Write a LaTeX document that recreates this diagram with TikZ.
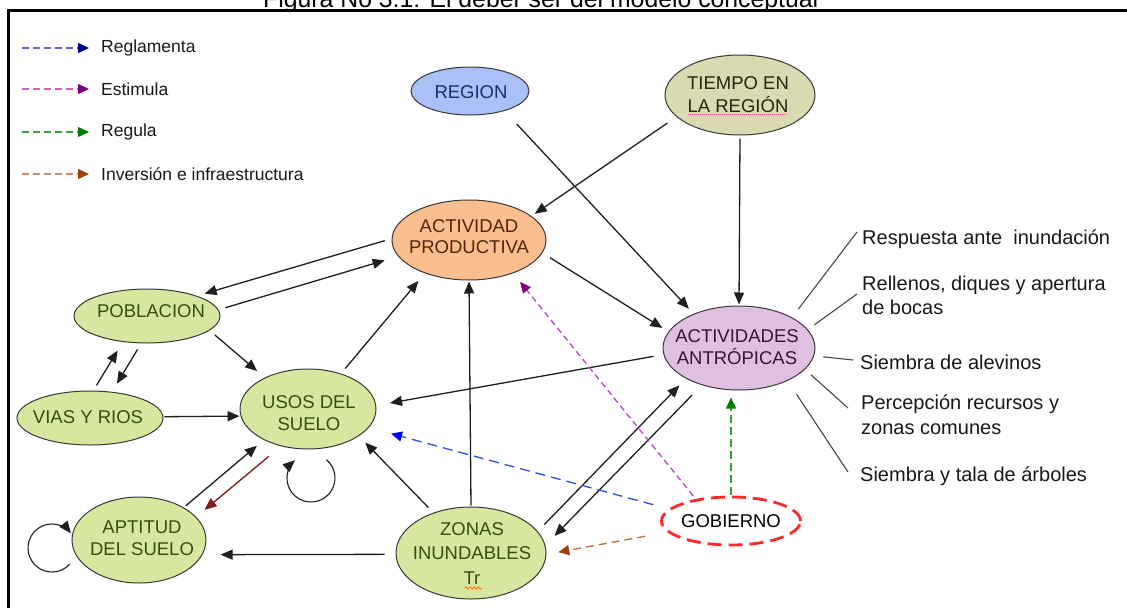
\documentclass[tikz,border=0pt]{standalone}
\usepackage{fontspec}
\setmainfont{Liberation Sans}
\usetikzlibrary{shapes.geometric,arrows.meta,decorations.pathmorphing}
\definecolor{gfill}{HTML}{D7E79F}
\definecolor{gtext}{HTML}{34500E}
\definecolor{rfill}{HTML}{A9C1F6}
\definecolor{rtext}{HTML}{1F2B6A}
\definecolor{tfill}{HTML}{D9D9B2}
\definecolor{ttext}{HTML}{262610}
\definecolor{afill}{HTML}{FBBE8E}
\definecolor{atext}{HTML}{522608}
\definecolor{pfill}{HTML}{E0C0E0}
\definecolor{ptext}{HTML}{341634}
\definecolor{gobred}{HTML}{FF2828}
\definecolor{dkred}{HTML}{7B1C1C}
\definecolor{lgblue}{HTML}{6464CC}
\definecolor{lgnavy}{HTML}{000080}
\definecolor{lgpink}{HTML}{C464C8}
\definecolor{lgpurple}{HTML}{800080}
\definecolor{lggreen}{HTML}{40A040}
\definecolor{lgdkgreen}{HTML}{008000}
\definecolor{lgtan}{HTML}{C8906A}
\definecolor{lgbrown}{HTML}{A0400A}
\definecolor{edblue}{HTML}{2E4EF0}
\definecolor{edpurple}{HTML}{B04AC0}
\definecolor{edgreen}{HTML}{30A030}
\definecolor{edbrown}{HTML}{C0703A}
\tikzset{
  nd/.style={ellipse, draw=black!78, line width=1pt, inner sep=0pt},
  ntxt/.style={font=\fontsize{18.5}{22.5}\selectfont, align=center, inner sep=0pt},
  rtxt/.style={font=\fontsize{20}{24}\selectfont, anchor=base west, inner sep=0pt, text=black!90},
  lgtxt/.style={font=\fontsize{17.5}{21}\selectfont, anchor=west, inner sep=0pt, text=black!90},
  arr/.style={-{Triangle[length=12pt,width=10pt]}, line width=1.3pt, draw=black!88},
  darr/.style={-{Triangle[length=11pt,width=10pt,color=#1]}, line width=1.3pt},
  spoke/.style={line width=1.1pt, draw=black!72},
}
\begin{document}
\begin{tikzpicture}[x=1pt,y=1pt]
\useasboundingbox (0,0) rectangle (1127,-608);
\fill[white] (0,0) rectangle (1127,-608);

% title and frame
\node[anchor=base west, font=\fontsize{24.8}{30}\selectfont, inner sep=0pt] (title) at (263,-7) {Figura No 3.1: El deber ser del modelo conceptual};
\draw[line width=2.8pt] (8.5,-608) -- (8.5,-10.5) -- (1127,-10.5);

% legend
\coordinate (lg1a) at (22,-48);  \coordinate (lg1b) at (89,-48);
\coordinate (lg2a) at (22,-89);  \coordinate (lg2b) at (89,-89);
\coordinate (lg3a) at (22,-132); \coordinate (lg3b) at (89,-132);
\coordinate (lg4a) at (22,-174); \coordinate (lg4b) at (89,-174);
\draw[darr=lgnavy, draw=lgblue, dash pattern=on 6.5pt off 4.5pt] (lg1a) -- (lg1b);
\draw[darr=lgpurple, draw=lgpink, dash pattern=on 6.5pt off 4.5pt] (lg2a) -- (lg2b);
\draw[darr=lgdkgreen, draw=lggreen, dash pattern=on 6.5pt off 4.5pt] (lg3a) -- (lg3b);
\draw[darr=lgbrown, draw=lgtan, dash pattern=on 6.5pt off 4.5pt] (lg4a) -- (lg4b);
\node[lgtxt] (lg1) at (101,-48) {Reglamenta};
\node[lgtxt] (lg2) at (101,-89) {Estimula};
\node[lgtxt] (lg3) at (101,-132) {Regula};
\node[lgtxt] (lg4) at (101,-174) {Inversión e infraestructura};

% nodes
\node[nd, fill=rfill, minimum width=118pt, minimum height=48pt] (reg) at (470,-91) {};
\node[nd, fill=tfill, minimum width=150pt, minimum height=80pt] (tie) at (740,-95) {};
\node[nd, fill=afill, minimum width=154pt, minimum height=80pt] (act) at (469,-240) {};
\node[nd, fill=pfill, minimum width=152pt, minimum height=84pt] (ant) at (739,-348) {};
\node[nd, fill=gfill, minimum width=146pt, minimum height=54pt] (pob) at (147,-316) {};
\node[nd, fill=gfill, minimum width=146pt, minimum height=54pt] (via) at (90,-418) {};
\node[nd, fill=gfill, minimum width=136pt, minimum height=80pt] (uso) at (308,-409) {};
\node[nd, fill=gfill, minimum width=134pt, minimum height=86pt] (apt) at (139,-540) {};
\node[nd, fill=gfill, minimum width=150pt, minimum height=92pt] (zon) at (471,-553) {};
\node[ellipse, draw=gobred, fill=white, line width=2.8pt, dash pattern=on 14pt off 7pt, inner sep=0pt, minimum width=139pt, minimum height=48pt] (gob) at (731,-521) {};

\node[ntxt, text=rtext] (reg-t) at (471,-92) {REGION};
\node[ntxt, text=ttext] (tie-t) at (738,-94.5) {TIEMPO EN\\LA REGIÓN};
\node[ntxt, text=atext, font=\fontsize{18.5}{21}\selectfont] (act-t) at (469,-237) {ACTIVIDAD\\PRODUCTIVA};
\node[ntxt, text=ptext, font=\fontsize{18.5}{22}\selectfont] (ant-t) at (737,-347) {ACTIVIDADES\\ANTRÓPICAS};
\node[ntxt, text=gtext] (pob-t) at (151,-311) {POBLACION};
\node[ntxt, text=gtext] (via-t) at (88,-417) {VIAS Y RIOS};
\node[ntxt, text=gtext] (uso-t) at (309,-413) {USOS DEL\\SUELO};
\node[ntxt, text=gtext] (apt-t) at (142,-538) {APTITUD\\DEL SUELO};
\node[ntxt, text=gtext, font=\fontsize{18.5}{24.5}\selectfont] (zon-t) at (472,-553.5) {ZONAS\\INUNDABLES\\Tr};
\node[ntxt, text=black] (gob-t) at (731,-521) {GOBIERNO};

% spell-check marks
\draw[densely dotted, line width=1pt, draw=magenta!70] (688,-114.5) -- (788,-114.5);
\draw[draw=orange!90!red, line width=0.8pt, decorate, decoration={snake, amplitude=1.3pt, segment length=4pt}] (465,-588) -- (482,-588);

% black connectors
\draw[arr, shorten <=18pt, shorten >=7pt] (reg.-30) -- (ant.143);
\draw[arr, shorten <=11pt, shorten >=4pt] (tie.199) -- (act.21);
\draw[arr, shorten <=3pt, shorten >=1pt] (tie.south) -- (ant.north);
\draw[arr, shorten <=9pt, shorten >=7pt] (act.-10.5) -- (ant.167);
\draw[arr, shorten <=7pt, shorten >=8pt] (act.179) -- (pob.22);
\draw[arr, shorten <=7pt, shorten >=14pt] (pob.5) -- (act.193);
\draw[arr, shorten <=7pt, shorten >=10pt] (pob.-13) -- (uso.144);
\draw[arr, shorten <=6pt, shorten >=10pt] (via.83) -- (pob.227);
\draw[arr, shorten <=7pt, shorten >=9.5pt] (pob.258) -- (via.50);
\draw[arr, shorten <=1pt, shorten >=1pt] (via.1.6) -- (uso.186);
\draw[arr, shorten <=6.6pt, shorten >=10pt] (uso.47) -- (act.217);
\draw[arr, shorten <=1pt, shorten >=1pt] (zon.north) -- (act.south);
\draw[arr, shorten <=10pt, shorten >=14pt] (ant.185) -- (uso.3);
\draw[arr, shorten <=7pt, shorten >=9pt] (zon.133) -- (uso.-28);
\draw[arr, shorten <=2.6pt, shorten >=9pt] (apt.36.5) -- (uso.215);
\draw[arr, draw=dkred, shorten <=16pt, shorten >=11pt] (uso.234) -- (apt.22);
\draw[arr, shorten <=11pt, shorten >=18pt] (zon.181.3) -- (apt.-13);
\draw[arr, shorten <=9.5pt, shorten >=9.5pt] (zon.18.4) -- (ant.210);
\draw[arr, shorten <=14pt, shorten >=13pt] (ant.225.6) -- (zon.6.6);

% self loops
\coordinate (usoloop) at (311,-478);
\coordinate (aptloop) at (52,-548);
\draw[arr, line width=1.1pt] (usoloop) ++(50:24) arc[start angle=50, end angle=-228, radius=24];
\draw[arr, line width=1.1pt] (aptloop) ++(-42:24) arc[start angle=-42, end angle=-322, radius=24];

% dashed government connectors
\draw[darr=blue, draw=edblue, dash pattern=on 10pt off 6pt, shorten <=16pt, shorten >=23pt] (gob.169) -- (uso.-17);
\draw[darr=lgpurple, draw=edpurple, dash pattern=on 6pt off 4pt, shorten <=4pt, shorten >=11pt] (gob.148) -- (act.-37.6);
\draw[darr=lgdkgreen, draw=edgreen, dash pattern=on 8pt off 4pt, shorten <=1pt, shorten >=7pt] (gob.north) -- (gob.north |- ant.south);
\draw[darr=lgbrown, draw=edbrown, dash pattern=on 8pt off 5pt, shorten <=22.7pt, shorten >=12pt] (gob.190) -- (zon.-1.3);

% labels of human activities
\node[rtxt] (l1) at (862,-244) {Respuesta ante \ inundación};
\node[rtxt] (l2a) at (862,-290) {Rellenos, diques y apertura};
\node[rtxt] (l2b) at (862,-314) {de bocas};
\node[rtxt] (l3) at (860,-369) {Siembra de alevinos};
\node[rtxt] (l4a) at (861,-409) {Percepción recursos y};
\node[rtxt] (l4b) at (861,-434) {zonas comunes};
\node[rtxt] (l5) at (860,-481) {Siembra y tala de árboles};
\coordinate (e1) at (857,-232);
\coordinate (e2) at (857,-294);
\coordinate (e3) at (853,-360);
\coordinate (e4) at (848,-408);
\coordinate (e5) at (848,-472);
\draw[spoke, shorten <=10.5pt] (ant.30.5) -- (e1);
\draw[spoke, shorten <=8pt] (ant.15.4) -- (e2);
\draw[spoke, shorten <=9pt] (ant.-6.8) -- (e3);
\draw[spoke, shorten <=8pt] (ant.-18.2) -- (e4);
\draw[spoke, shorten <=16pt] (ant.-34.5) -- (e5);
\end{tikzpicture}
\end{document}
